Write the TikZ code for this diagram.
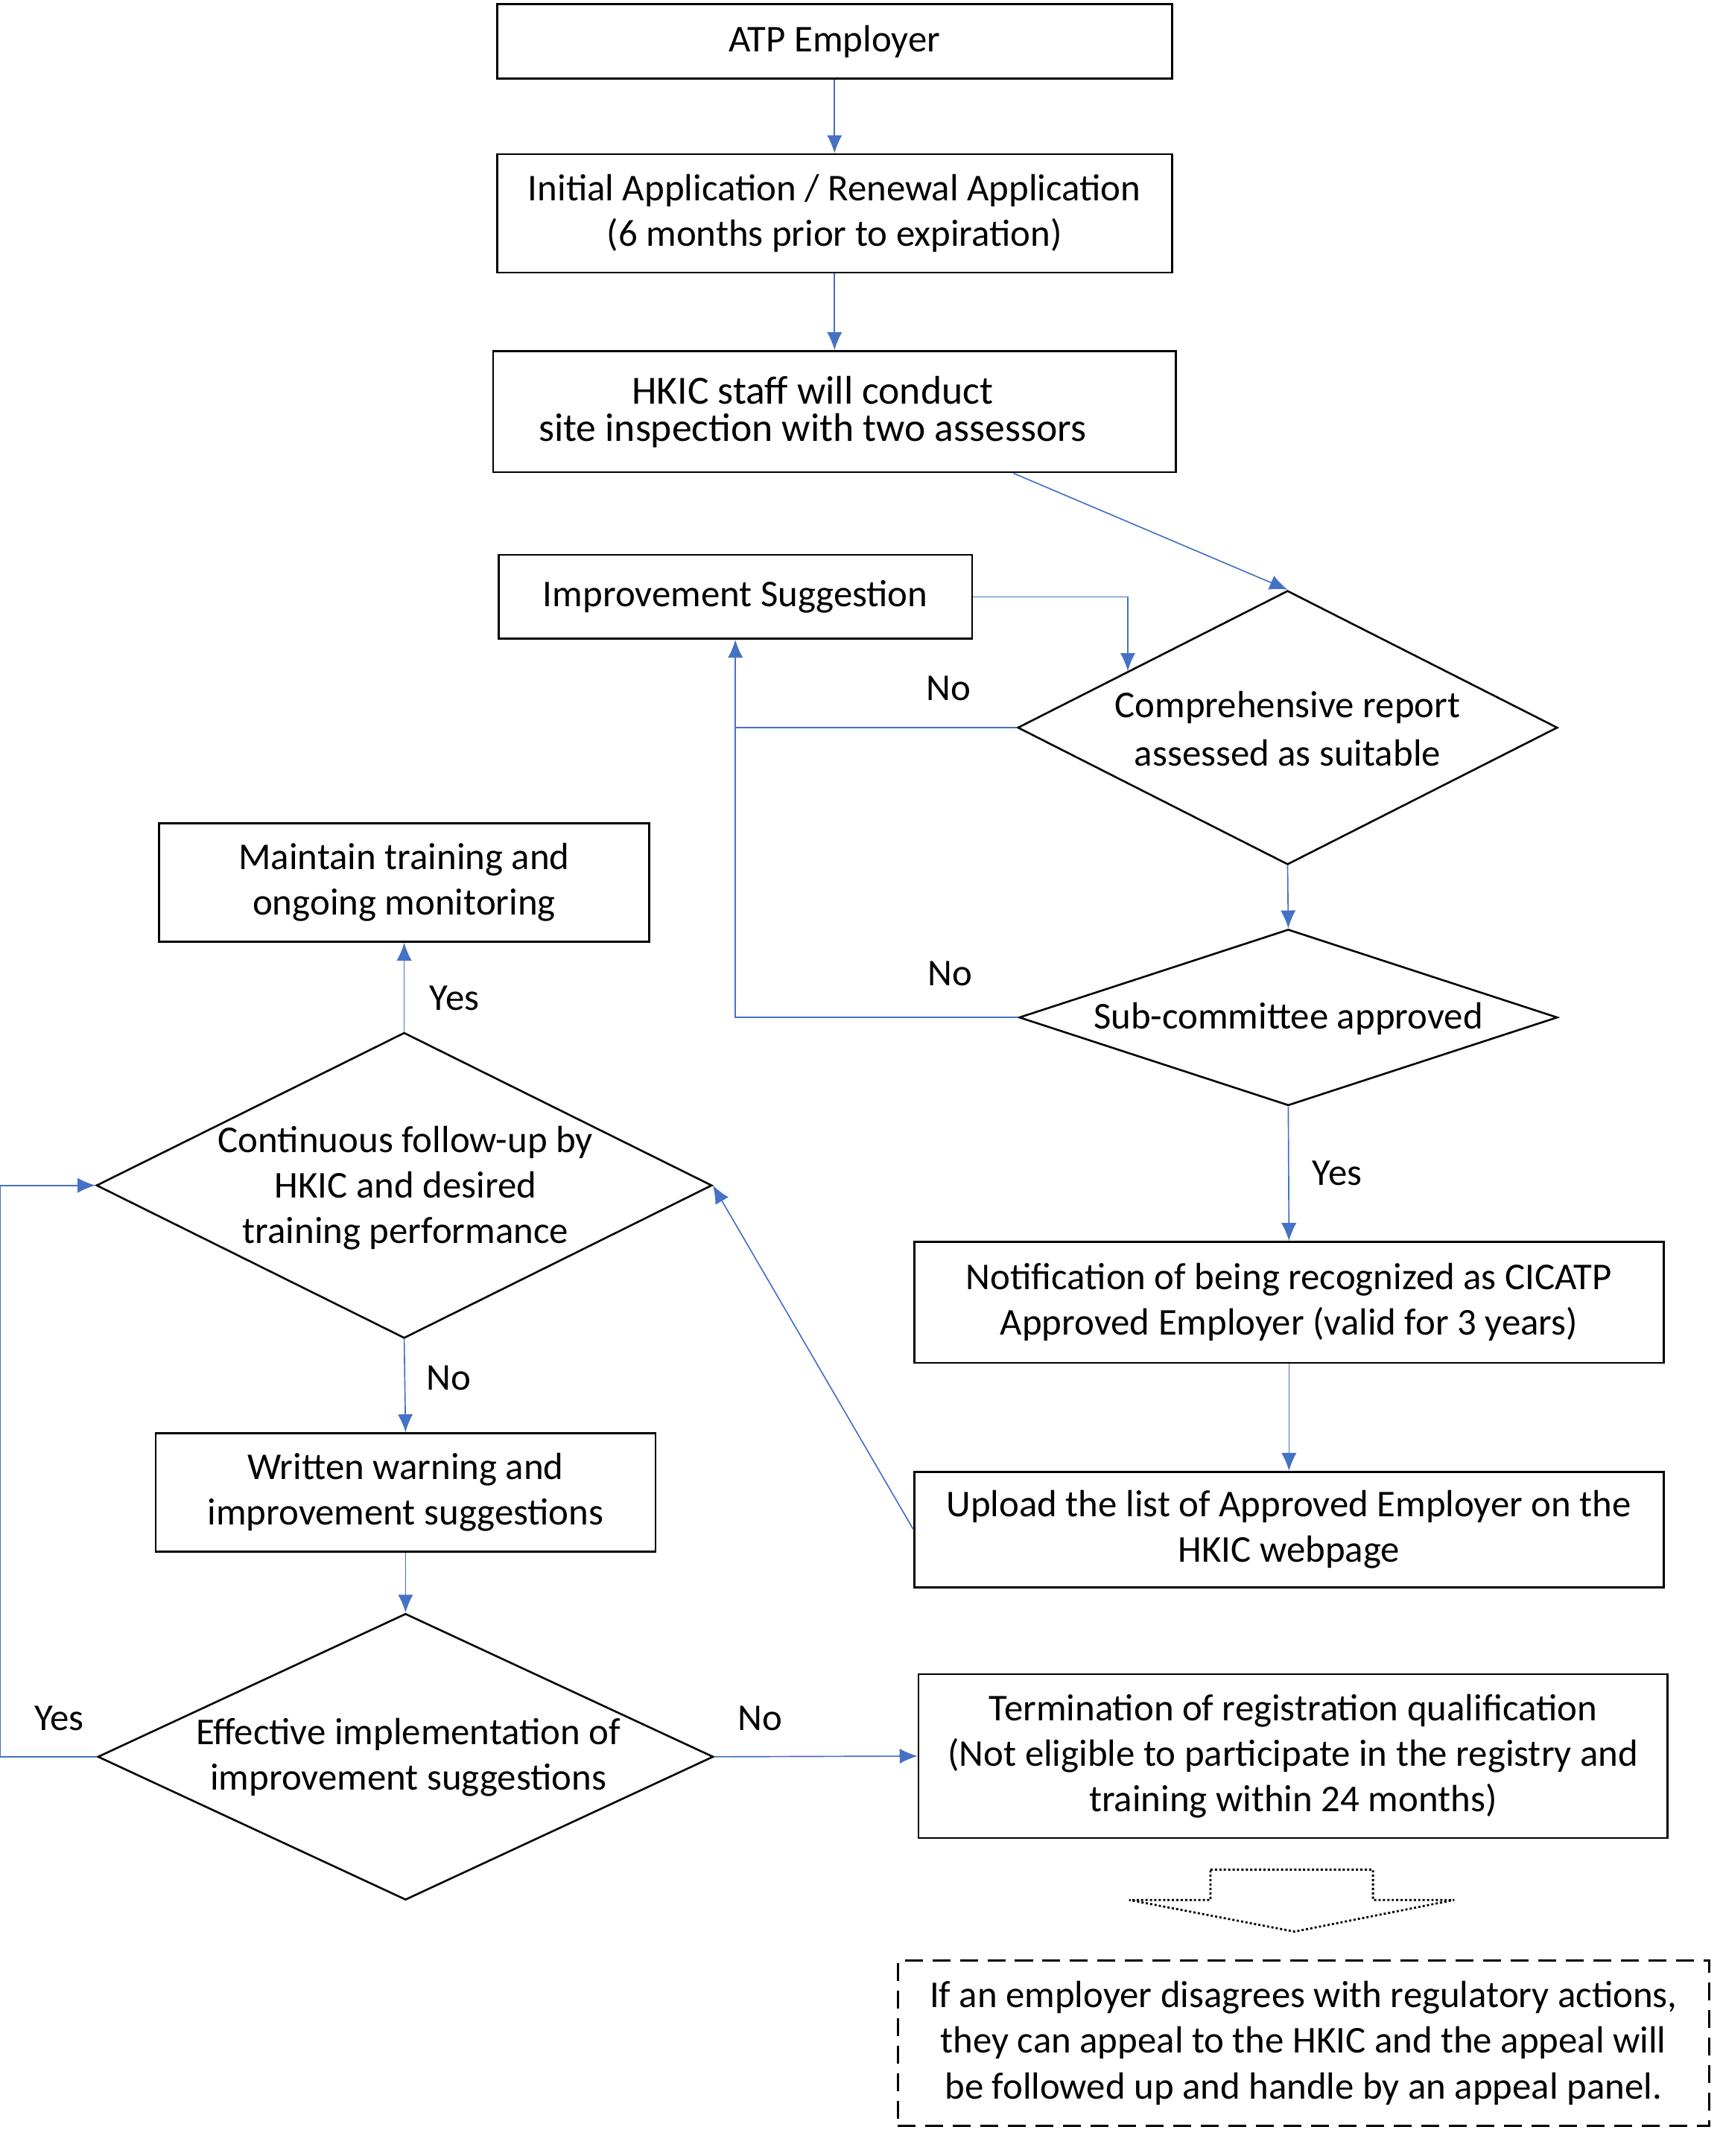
\documentclass[tikz,border=0pt]{standalone}
\usepackage{fontspec}
\setmainfont{Carlito}
\usetikzlibrary{shapes.geometric,arrows.meta,calc}
\definecolor{cblue}{HTML}{4472C4}
\newcommand\mainsz{\fontsize{27.5}{33}\selectfont}
\newcommand\hksz{\fontsize{29}{27}\selectfont}
\tikzset{
  box/.style={draw=black, line width=1.4pt, align=center, inner sep=0pt, font=\mainsz},
  dia/.style={draw=black, diamond, line width=1.4pt, inner sep=0pt},
  txt/.style={align=center, inner sep=0pt, font=\mainsz},
  conn/.style={draw=cblue, line width=0.9pt, -{Latex[length=13pt,width=11pt]}},
  plain/.style={draw=cblue, line width=0.9pt},
  lbl/.style={inner sep=0pt, font=\mainsz},
}
\begin{document}
\begin{tikzpicture}[x=1pt,y=-1pt]
\useasboundingbox (0,0) rectangle (1251,1566);
% boxes
\node[box, minimum width=490pt, minimum height=54pt] (atp) at (606,30) {ATP Employer};
\node[box, minimum width=490pt, minimum height=86pt] (init) at (606,155) {Initial Application / Renewal Application\\(6 months prior to expiration)};
\node[box, minimum width=496pt, minimum height=88pt] (hkic) at (606,299) {};
\node[txt, font=\hksz] (hkict) at (590,299) {HKIC staff will conduct\\site inspection with two assessors};
\node[box, minimum width=344pt, minimum height=61pt] (imp) at (534,433.5) {Improvement Suggestion};
\node[dia, minimum width=392pt, minimum height=199pt] (comp) at (935,528.5) {};
\node[txt, font=\fontsize{27.5}{35}\selectfont] (compt) at (935,529.5) {Comprehensive report\\assessed as suitable};
\node[dia, minimum width=391pt, minimum height=128pt] (sub) at (935.5,739) {};
\node[txt] (subt) at (935.5,740) {Sub-committee approved};
\node[box, minimum width=544pt, minimum height=88pt] (notif) at (936,946) {Notification of being recognized as CICATP\\Approved Employer (valid for 3 years)};
\node[box, minimum width=544pt, minimum height=84pt] (upload) at (936,1111) {Upload the list of Approved Employer on the\\HKIC webpage};
\node[box, minimum width=544pt, minimum height=119pt] (term) at (939,1275.5) {Termination of registration qualification\\(Not eligible to participate in the registry and\\training within 24 months)};
\node[box, dash pattern=on 13pt off 7pt, minimum width=589pt, minimum height=120pt] (appeal) at (946.5,1484) {If an employer disagrees with regulatory actions,\\they can appeal to the HKIC and the appeal will\\be followed up and handle by an appeal panel.};
\node[box, minimum width=356pt, minimum height=86pt] (maint) at (293.5,641) {Maintain training and\\ongoing monitoring};
\node[dia, minimum width=447pt, minimum height=222pt] (cont) at (293.5,861) {};
\node[txt] (contt) at (294.5,863) {Continuous follow-up by\\HKIC and desired\\training performance};
\node[box, minimum width=363pt, minimum height=86pt] (warn) at (294.5,1084) {Written warning and\\improvement suggestions};
\node[dia, minimum width=447pt, minimum height=208pt] (eff) at (294.5,1276) {};
\node[txt] (efft) at (296.5,1276.5) {Effective implementation of\\improvement suggestions};
% hollow dotted arrow
\draw[black, line width=1.5pt, dash pattern=on 1.6pt off 1.6pt]
  (879,1358) -- (997,1358) -- (997,1380) -- (1056,1380) -- (940,1403) -- (820,1380) -- (879,1380) -- cycle;
% connectors
\draw[conn] (atp.south) -- (init.north);
\draw[conn] (init.south) -- (hkic.north);
\draw[conn] (hkic.-19.4) -- (comp.north);
\draw[conn] (imp.east) -| ($(comp.north)!0.59!(comp.west)$);
\draw[conn] (comp.west) -| (imp.south);
\draw[plain] (sub.west) -| (comp.west -| imp.south);
\draw[conn] (comp.south) -- (sub.north);
\draw[conn] (sub.south) -- (notif.north);
\draw[conn] (notif.south) -- (upload.north);
\draw[conn] (upload.west) -- (cont.east);
\draw[conn] (cont.north) -- (maint.south);
\draw[conn] (cont.south) -- (warn.north);
\draw[conn] (warn.south) -- (eff.north);
\draw[conn] (eff.west) -- ++(-70,0) |- (cont.west);
\draw[conn] (eff.east) -- (term.west);
% labels
\node[lbl] (l1) at (689,500) {No};
\node[lbl] (l2) at (690,707) {No};
\node[lbl] (l3) at (971,852) {Yes};
\node[lbl] (l4) at (330,725) {Yes};
\node[lbl] (l5) at (326,1001) {No};
\node[lbl] (l6) at (43,1248) {Yes};
\node[lbl] (l7) at (552,1248) {No};
\end{tikzpicture}
\end{document}
